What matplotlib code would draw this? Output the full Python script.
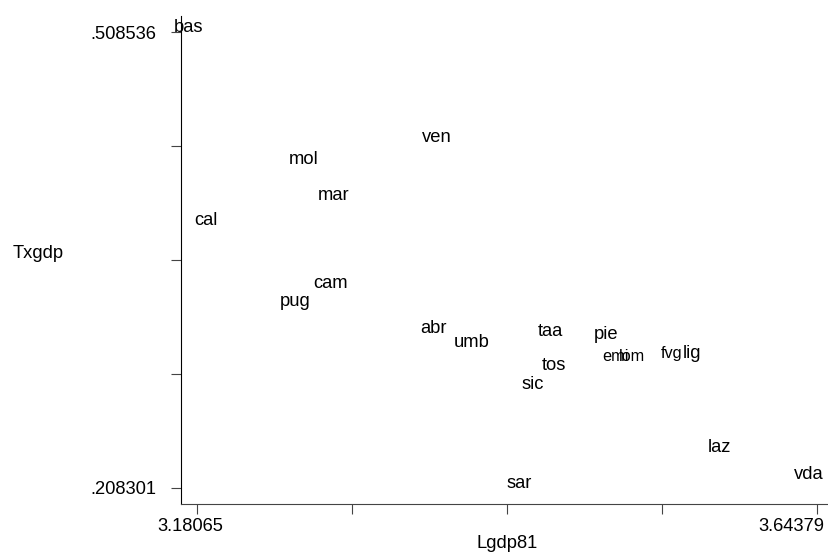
import matplotlib
matplotlib.use("Agg")
import matplotlib.pyplot as plt

# Italian regions: log GDP 1981 vs tax/GDP ratio
regions = ["bas", "ven", "mol", "mar", "cal", "cam", "pug", "abr", "umb", "taa",
           "pie", "emi", "lom", "fvg", "lig", "tos", "sic", "laz", "vda", "sar"]
lgdp81 = [3.18065, 3.36583, 3.26662, 3.28853, 3.19314, 3.28681, 3.25990, 3.36329,
          3.39222, 3.45076, 3.49255, 3.49928, 3.51206, 3.54114, 3.55647, 3.45375,
          3.43745, 3.57710, 3.64379, 3.42736]
txgdp = [0.508536, 0.43631, 0.42143, 0.39792, 0.38146, 0.34018, 0.32813, 0.31016,
         0.30094, 0.30838, 0.30653, 0.29172, 0.29172, 0.29403, 0.29422, 0.28599,
         0.27381, 0.23181, 0.21423, 0.208301]

x_min, x_max = 3.18065, 3.64379
y_min, y_max = 0.208301, 0.508536

plt.rcParams["font.family"] = ["Liberation Sans", "DejaVu Sans"]
FS = 13.2
small = {"emi", "lom", "fvg"}  # these came out a bit smaller in the original

W, H = 829, 552
fig = plt.figure(figsize=(W / 100, H / 100), dpi=100)
ax = fig.add_axes([181 / W, (H - 504) / H, (829 - 181) / W, (504 - 16) / H])

ax.set_xlim(3.168315, 3.652761)
ax.set_ylim(0.197766, 0.519071)

for name, x, y in zip(regions, lgdp81, txgdp):
    ax.annotate(name, (x, y), xytext=(-8.5, 0), textcoords="offset pixels",
                ha="center", va="baseline", fontsize=11.7 if name in small else FS,
                color="black")

for s in ("top", "right"):
    ax.spines[s].set_visible(False)
ax.spines["left"].set_color("black")
ax.spines["bottom"].set_color("#444444")

step_x = (x_max - x_min) / 4
step_y = (y_max - y_min) / 4
ax.set_xticks([x_min + i * step_x for i in range(5)])
ax.set_xticklabels([])
ax.set_yticks([y_min + i * step_y for i in range(5)])
ax.set_yticklabels([".208301", "", "", "", ".508536"], fontsize=FS)
ax.tick_params(axis="both", length=7.2, width=0.8, color="#444444")
ax.tick_params(axis="y", pad=10.8)

# x tick labels, nudged like the original
ax.annotate("3.18065", (x_min, 0), xycoords=("data", "axes fraction"),
            xytext=(-7, -26.7), textcoords="offset pixels",
            ha="center", va="baseline", fontsize=FS)
ax.annotate("3.64379", (x_max, 0), xycoords=("data", "axes fraction"),
            xytext=(7, -26.7), textcoords="offset pixels",
            ha="right", va="baseline", fontsize=FS)

fig.text(38 / W, 1 - 257.7 / H, "Txgdp", ha="center", va="baseline", fontsize=FS)
fig.text(506.7 / W, 1 - 548 / H, "Lgdp81", ha="center", va="baseline", fontsize=FS)

fig.savefig("out.png", dpi=100)
